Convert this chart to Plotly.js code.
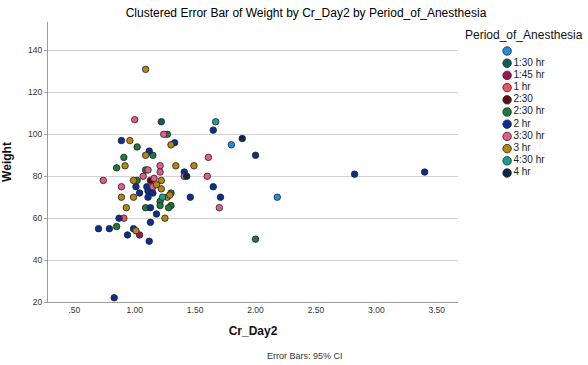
<!DOCTYPE html>
<html><head><meta charset="utf-8">
<script src="https://cdn.plot.ly/plotly-3.0.1.min.js"></script>
<style>html,body{margin:0;padding:0;background:#fff}#chart{width:588px;height:365px}</style>
</head><body><div id="chart"></div>
<script>
// Categories (Period_of_Anesthesia) and their colours
const categories = ["", "1:30 hr", "1:45 hr", "1 hr", "2:30", "2:30 hr", "2 hr", "3:30 hr", "3 hr", "4:30 hr", "4 hr"];
const colors = ["#1e8ee6", "#0d5e5c", "#9b1553", "#f0525a", "#5c0c12", "#1c7a3a", "#0a2f94", "#e45c8c", "#b5860e", "#199e9a", "#0c2748"];

// Cr_Day2 (x) and Weight (y) per category
const cr_blank = [1.80, 2.18];
const wt_blank = [95, 70];
const cr_130 = [1.22];
const wt_130 = [106];
const cr_145 = [1.04];
const wt_145 = [52];
const cr_1h = [0.91];
const wt_1h = [60];
const cr_230 = [1.13];
const wt_230 = [78];
const cr_230h = [1.27, 1.02, 1.15, 0.91, 0.85, 1.09, 1.02, 1.30, 1.21, 1.21, 1.30, 1.28, 1.09, 0.85, 2.00];
const wt_230h = [100, 94, 90, 89, 84, 83, 78, 72, 68, 66, 66, 65, 65, 56, 50];
const cr_2h = [1.65, 2.00, 1.41, 1.65, 1.46, 1.71, 2.82, 3.40, 0.83, 1.12, 0.89, 1.33, 1.12, 1.01, 1.10, 1.11, 1.04, 1.15, 1.11, 1.13, 1.18, 0.87, 1.13, 0.70, 0.79, 0.94, 0.99];
const wt_2h = [102, 90, 82, 75, 70, 70, 81, 82, 22, 49, 97, 96, 92, 75, 75, 73, 72, 72, 70, 65, 62, 60, 58, 55, 55, 52, 55];
const cr_330h = [1.00, 1.24, 1.61, 1.41, 1.60, 1.70, 1.21, 1.21, 0.74, 1.07, 1.16, 0.89, 1.15, 1.11];
const wt_330h = [107, 100, 89, 80, 80, 65, 85, 82, 78, 80, 79, 75, 75, 83];
const cr_3h = [1.09, 0.96, 1.30, 1.09, 0.92, 1.34, 1.49, 0.99, 1.22, 1.18, 1.22, 0.89, 0.99, 1.27, 1.29, 0.93, 1.25, 1.01];
const wt_3h = [131, 97, 95, 90, 85, 85, 85, 78, 78, 76, 74, 70, 70, 70, 71, 65, 60, 54];
const cr_430h = [1.67, 1.23];
const wt_430h = [106, 70];
const cr_4h = [1.89, 1.43];
const wt_4h = [98, 80];

const xTickVals = [0.5, 1.0, 1.5, 2.0, 2.5, 3.0, 3.5];
const xTickText = [".50", "1.00", "1.50", "2.00", "2.50", "3.00", "3.50"];
const yTickVals = [20, 40, 60, 80, 100, 120, 140];

const series = [
  [cr_blank, wt_blank], [cr_130, wt_130], [cr_145, wt_145], [cr_1h, wt_1h], [cr_230, wt_230],
  [cr_230h, wt_230h], [cr_2h, wt_2h], [cr_330h, wt_330h], [cr_3h, wt_3h], [cr_430h, wt_430h], [cr_4h, wt_4h]
];

const FONT = '"Liberation Sans", Arial, sans-serif';
const traces = series.map((s, i) => ({
  type: 'scatter', mode: 'markers', x: s[0], y: s[1], name: categories[i],
  xaxis: 'x', yaxis: 'y', showlegend: false, hoverinfo: 'skip',
  marker: {size: 6.5, color: colors[i], line: {color: '#222', width: 0.8}}
}));

// Legend drawn as a marker+text trace on its own hidden axes
traces.push({
  type: 'scatter', mode: 'markers+text', xaxis: 'x2', yaxis: 'y2', showlegend: false, hoverinfo: 'skip',
  cliponaxis: false,
  x: categories.map(() => 0), y: categories.map((c, i) => i), text: categories,
  textposition: 'middle right', textfont: {family: FONT, size: 10, color: '#222'},
  marker: {size: 8.5, color: colors, line: {color: '#222', width: 0.8}}
});

const W = 588, H = 365, L = 48, R = 2, T = 22, B = 63;
const pw = W - L - R, ph = H - T - B;
const px2x = p => (p - L) / pw;
const py2y = p => 1 - (p - T) / ph;

const layout = {
  width: W, height: H, margin: {l: L, r: R, t: T, b: B},
  paper_bgcolor: '#fff', plot_bgcolor: '#fff',
  font: {family: FONT, color: '#222'},
  title: {text: 'Clustered Error Bar of Weight by Cr_Day2 by Period_of_Anesthesia',
    font: {family: FONT, size: 12, color: '#000'}, xref: 'paper', x: px2x(306), xanchor: 'center',
    yref: 'container', y: 1 - 13 / H, yanchor: 'middle'},
  xaxis: {domain: [0, px2x(458)], range: [0.282, 3.676], tickvals: xTickVals, ticktext: xTickText,
    showgrid: false, zeroline: false, showline: true, linecolor: '#9a9a9a', linewidth: 1,
    ticks: '', tickfont: {family: FONT, size: 8.5, color: '#333'},
    title: {text: 'Cr_Day2', font: {family: FONT, size: 12, color: '#111', weight: 'bold'}, standoff: 12}},
  yaxis: {range: [20, 153.6], tickvals: yTickVals, showgrid: true, gridcolor: '#d2d2d2', gridwidth: 1,
    zeroline: false, showline: true, linecolor: '#9a9a9a', linewidth: 1,
    ticks: 'outside', ticklen: 3, tickcolor: '#aaa', tickfont: {family: FONT, size: 8.5, color: '#333'},
    title: {text: 'Weight', font: {family: FONT, size: 12, color: '#111', weight: 'bold'}, standoff: 14}},
  xaxis2: {domain: [px2x(500), 1], range: [-0.09, 1], visible: false, fixedrange: true, anchor: 'y2'},
  yaxis2: {domain: [py2y(51 + 12.2 * 10.5), py2y(51 - 6.1)], range: [10.5, -0.5], visible: false, fixedrange: true, anchor: 'x2'},
  annotations: [
    {text: 'Period_of_Anesthesia', xref: 'paper', yref: 'paper', x: px2x(524), y: py2y(35),
      xanchor: 'center', yanchor: 'middle', showarrow: false, font: {family: FONT, size: 12, color: '#111'}},
    {text: 'Error Bars: 95% CI', xref: 'paper', yref: 'paper', x: px2x(305), y: py2y(356),
      xanchor: 'center', yanchor: 'middle', showarrow: false, font: {family: FONT, size: 9, color: '#333'}}
  ]
};

Plotly.newPlot('chart', traces, layout, {displayModeBar: false, staticPlot: true});
</script>
</body></html>
